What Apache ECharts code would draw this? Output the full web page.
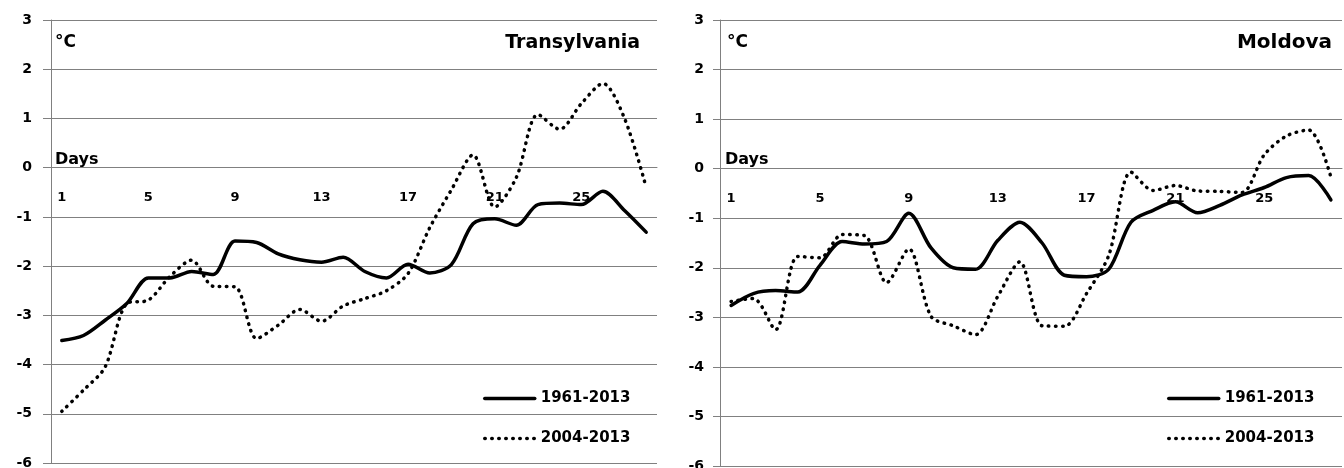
<!DOCTYPE html>
<html>
<head>
<meta charset="utf-8">
<script src="https://cdn.jsdelivr.net/npm/echarts@6/dist/echarts.min.js"></script>
<style>
  * { margin: 0; padding: 0; }
  body { background: #fff; }
  #main { width: 1344px; height: 468px; }
</style>
</head>
<body>
<div id="main"></div>
<script>
// days of the month (category axis)
var days = ['1', '2', '3', '4', '5', '6', '7', '8', '9', '10', '11', '12', '13', '14',
  '15', '16', '17', '18', '19', '20', '21', '22', '23', '24', '25', '26', '27', '28']

// Transylvania, deg C
var transLong = [-3.51, -3.41, -3.10, -2.76, -2.24, -2.24, -2.11, -2.17, -1.49, -1.52, -1.75, -1.87, -1.92, -1.82,
  -2.11, -2.24, -1.96, -2.14, -1.97, -1.14, -1.04, -1.17, -0.75, -0.72, -0.75, -0.48, -0.87, -1.31]
var transRecent = [-4.95, -4.52, -4.05, -2.76, -2.69, -2.21, -1.88, -2.41, -2.42, -3.47, -3.20, -2.88, -3.12, -2.81,
  -2.66, -2.50, -2.15, -1.22, -0.45, 0.26, -0.80, -0.20, 1.08, 0.78, 1.30, 1.71, 1.00, -0.40]

// Moldova, deg C
var molLong = [-2.76, -2.52, -2.46, -2.49, -1.95, -1.47, -1.52, -1.47, -0.90, -1.60, -2.00, -2.03, -1.45, -1.08,
  -1.50, -2.15, -2.18, -2.03, -1.08, -0.84, -0.67, -0.89, -0.74, -0.53, -0.38, -0.18, -0.14, -0.63]
var molRecent = [-2.68, -2.62, -3.25, -1.77, -1.80, -1.33, -1.35, -2.30, -1.62, -2.98, -3.17, -3.35, -2.58, -1.88,
  -3.17, -3.18, -2.52, -1.75, -0.07, -0.44, -0.34, -0.45, -0.46, -0.48, 0.28, 0.66, 0.78, -0.17]

var seriesNames = ['1961-2013', '2004-2013']

var font = 'DejaVu Sans'
var gray = '#808080'
var yMin = -6
var yMax = 3

// grid boxes (px); the day axis is moved up to sit on 0
var grids = [
  { left: 51, right: 687, top: 20, bottom: 5, outerBoundsMode: 'none' },
  { left: 720, right: 2, top: 20, bottom: 2, outerBoundsMode: 'none' }
]

function zeroOffset (g) {
  var h = 468 - g.top - g.bottom
  return -h * (0 - yMin) / (yMax - yMin)
}

function xAxisFor (idx) {
  return {
    type: 'category',
    gridIndex: idx,
    data: days,
    boundaryGap: true,
    position: 'bottom',
    offset: zeroOffset(grids[idx]),
    axisLine: { onZero: false, lineStyle: { color: gray, width: 1 } },
    axisTick: { interval: 0, length: 5, lineStyle: { color: gray } },
    axisLabel: { interval: 3, margin: 23, color: '#000', fontFamily: font, fontWeight: 'bold', fontSize: 13 },
    splitLine: { show: false }
  }
}

function yAxisFor (idx, margin, tick) {
  return {
    type: 'value',
    gridIndex: idx,
    min: yMin,
    max: yMax,
    interval: 1,
    axisLine: { show: true, lineStyle: { color: gray, width: 1 } },
    axisTick: { show: true, length: tick, lineStyle: { color: gray } },
    axisLabel: { margin: margin, color: '#000', fontFamily: font, fontWeight: 'bold', fontSize: 14 },
    splitLine: { lineStyle: { color: gray, width: 1 } }
  }
}

function lineSeries (idx, name, data, dotted) {
  return {
    name: name,
    type: 'line',
    xAxisIndex: idx,
    yAxisIndex: idx,
    data: data,
    smooth: 0.3,
    symbol: 'none',
    z: dotted ? 3 : 4,
    lineStyle: dotted
      ? { color: '#000', width: 3.5, type: [0.5, 6.5], cap: 'round' }
      : { color: '#000', width: 3.5, cap: 'round', join: 'round' },
    itemStyle: { color: '#000' }
  }
}

function legendAt (left) {
  return {
    orient: 'vertical',
    left: left,
    top: 391,
    padding: 0,
    itemWidth: 50,
    itemHeight: 14,
    itemGap: 25,
    data: seriesNames,
    lineStyle: { width: 3.5 },
    itemStyle: { color: 'rgba(0,0,0,0)', borderWidth: 0, opacity: 0 },
    textStyle: { color: '#000', fontFamily: font, fontWeight: 'bold', fontSize: 15, padding: [0, 0, 0, 1] }
  }
}

function label (text, pos, size) {
  var t = {
    text: text,
    top: pos.top,
    padding: 0,
    textStyle: { color: '#000', fontFamily: font, fontWeight: 'bold', fontSize: size }
  }
  if (pos.left !== undefined) t.left = pos.left
  if (pos.right !== undefined) t.right = pos.right
  return t
}

var chart = echarts.init(document.getElementById('main'))
chart.setOption({
  animation: false,
  backgroundColor: '#fff',
  title: [
    label('°C', { left: 55, top: 34 }, 17),
    label('Transylvania', { right: 704, top: 34 }, 19),
    label('Days', { left: 55, top: 152 }, 16),
    label('°C', { left: 727, top: 34 }, 17),
    label('Moldova', { right: 12, top: 33 }, 20),
    label('Days', { left: 725, top: 152 }, 16)
  ],
  legend: [legendAt(483), legendAt(1167)],
  grid: grids,
  xAxis: [xAxisFor(0), xAxisFor(1)],
  yAxis: [yAxisFor(0, 19, 8), yAxisFor(1, 16, 7)],
  series: [
    lineSeries(0, seriesNames[0], transLong, false),
    lineSeries(0, seriesNames[1], transRecent, true),
    lineSeries(1, seriesNames[0], molLong, false),
    lineSeries(1, seriesNames[1], molRecent, true)
  ]
})
</script>
</body>
</html>
